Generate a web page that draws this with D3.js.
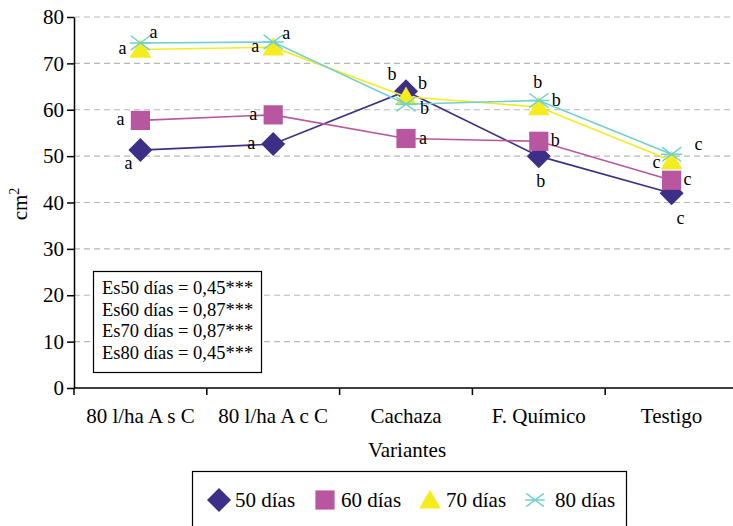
<!DOCTYPE html>
<html>
<head>
<meta charset="utf-8">
<script src="https://cdn.jsdelivr.net/npm/d3@7"></script>
<style>
  html, body { margin: 0; padding: 0; background: #fff; }
  svg text { font-family: "Liberation Serif", "Times New Roman", serif; fill: #000; }
</style>
</head>
<body>
<svg id="chart" width="733" height="526"></svg>
<script>
// Leaf area (cm²) by treatment variant at four sampling ages
const categories = ["80 l/ha A s C", "80 l/ha A c C", "Cachaza", "F. Químico", "Testigo"];
const seriesNames = ["50 días", "60 días", "70 días", "80 días"];
const values50 = [51.3, 52.6, 64.0, 50.0, 42.0];
const values60 = [57.7, 58.9, 53.8, 53.2, 44.8];
const values70 = [73.0, 73.5, 62.8, 60.6, 49.0];
const values80 = [74.4, 74.6, 61.2, 62.0, 50.4];
// significance letters per point
const letters50 = ["a", "a", "b", "b", "c"];
const letters60 = ["a", "a", "a", "b", "c"];
const letters70 = ["a", "a", "b", "b", "c"];
const letters80 = ["a", "a", "b", "b", "c"];
const yTicks = [0, 10, 20, 30, 40, 50, 60, 70, 80];
const statsLines = ["Es50 días = 0,45***", "Es60 días = 0,87***", "Es70 días = 0,87***", "Es80 días = 0,45***"];

const colors = ["#3d2f87", "#b8579f", "#f5ec1e", "#72d0d0"];
const shapes = ["diamond", "square", "triangle", "asterisk"];
// letter offsets relative to each point (dx, dy, anchor)
const letterPos = [
  [[-12, 19, "middle"], [-18, 5, "end"], [-14, -11, "middle"], [2, 31, "middle"], [9, 31, "middle"]],
  [[-16, 5, "end"], [-16, 5, "end"], [13, 5, "start"], [12, 5, "start"], [12, 5, "start"]],
  [[-14, 5, "end"], [-14, 5, "end"], [12, -8, "start"], [-1, -19, "middle"], [-11, 7, "end"]],
  [[9, -5, "start"], [9, -3, "start"], [14, 10, "start"], [13, 6, "start"], [27, -4, "middle"]]
];

const series = [values50, values60, values70, values80].map((vals, i) => ({
  name: seriesNames[i], color: colors[i], shape: shapes[i],
  letters: [letters50, letters60, letters70, letters80][i],
  points: vals.map((v, j) => ({ cat: categories[j], value: v, pos: letterPos[i][j] }))
}));

const svg = d3.select("#chart");
const plot = { left: 74, right: 738, top: 17, bottom: 388 };

const x = d3.scaleBand().domain(categories).range([plot.left, plot.right]);
const y = d3.scaleLinear().domain([0, 80]).range([plot.bottom, plot.top]);

// dashed horizontal grid
svg.append("g")
  .selectAll("line")
  .data(yTicks.filter(t => t > 0))
  .join("line")
  .attr("x1", plot.left).attr("x2", 733)
  .attr("y1", d => y(d)).attr("y2", d => y(d))
  .attr("stroke", "#b8b8b8").attr("stroke-width", 1.2)
  .attr("stroke-dasharray", "6,4");

// y axis
const yAxis = svg.append("g")
  .attr("transform", `translate(${plot.left},0)`)
  .call(d3.axisLeft(y).tickValues(yTicks).tickSize(7).tickPadding(3).tickSizeOuter(0));
yAxis.select(".domain").attr("stroke", "#000").attr("stroke-width", 1.5);
yAxis.selectAll(".tick line").attr("stroke", "#000").attr("stroke-width", 1.5);
yAxis.selectAll("text").attr("font-size", 21);

// x axis with ticks on band edges
const xAxis = svg.append("g")
  .attr("transform", `translate(0,${plot.bottom})`);
xAxis.append("line")
  .attr("x1", plot.left).attr("x2", 733)
  .attr("y1", 0).attr("y2", 0)
  .attr("stroke", "#000").attr("stroke-width", 1.5);
xAxis.selectAll("line.tk")
  .data(categories)
  .join("line").attr("class", "tk")
  .attr("x1", d => x(d)).attr("x2", d => x(d))
  .attr("y1", 0).attr("y2", 7)
  .attr("stroke", "#000").attr("stroke-width", 1.5);
xAxis.selectAll("text")
  .data(categories)
  .join("text")
  .attr("x", d => x(d) + x.bandwidth() / 2)
  .attr("y", 35)
  .attr("text-anchor", "middle")
  .attr("font-size", 21)
  .text(d => d);

// axis titles
svg.append("text")
  .attr("x", 407).attr("y", 457)
  .attr("text-anchor", "middle").attr("font-size", 21)
  .text("Variantes");
const yt = svg.append("text")
  .attr("transform", "translate(27,204) rotate(-90)")
  .attr("text-anchor", "middle").attr("font-size", 21);
yt.append("tspan").text("cm");
yt.append("tspan").attr("dy", -8).attr("font-size", 14).text("2");

// marker drawing
function drawMarker(g, shape, color, size) {
  const s = size;
  if (shape === "diamond") {
    g.append("path").attr("d", `M0,${-s}L${s},0L0,${s}L${-s},0Z`).attr("fill", color);
  } else if (shape === "square") {
    const h = s * 0.8;
    g.append("rect").attr("x", -h).attr("y", -h).attr("width", 2 * h).attr("height", 2 * h).attr("fill", color);
  } else if (shape === "triangle") {
    const w = s * 0.9;
    g.append("path").attr("d", `M0,${-s * 0.85}L${w},${s * 0.7}L${-w},${s * 0.7}Z`).attr("fill", color);
  } else {
    const a = s * 0.8;
    g.append("path")
      .attr("d", `M${-a},${-a * 0.75}L${a},${a * 0.75}M${-a},${a * 0.75}L${a},${-a * 0.75}M${-a - 1},0L${a + 1},0`)
      .attr("stroke", color).attr("stroke-width", 1.4).attr("fill", "none");
  }
}

const cx = d => x(d.cat) + x.bandwidth() / 2;
const line = d3.line().x(cx).y(d => y(d.value));

series.forEach(s => {
  const g = svg.append("g");
  g.append("path").datum(s.points)
    .attr("d", line).attr("fill", "none")
    .attr("stroke", s.color).attr("stroke-width", 1.6);
  s.points.forEach(p => {
    const m = g.append("g").attr("transform", `translate(${cx(p)},${y(p.value)})`);
    drawMarker(m, s.shape, s.color, 12);
  });
});

// significance letters
series.forEach(s => {
  svg.append("g").selectAll("text")
    .data(s.points)
    .join("text")
    .attr("x", d => cx(d) + d.pos[0])
    .attr("y", d => y(d.value) + d.pos[1])
    .attr("text-anchor", d => d.pos[2])
    .attr("font-size", 18)
    .text((d, i) => s.letters[i]);
});

// statistics box
svg.append("rect")
  .attr("x", 93.5).attr("y", 271.5).attr("width", 168).attr("height", 101)
  .attr("fill", "#fff").attr("stroke", "#000").attr("stroke-width", 1.2);
svg.append("g").selectAll("text")
  .data(statsLines)
  .join("text")
  .attr("x", 102).attr("y", (d, i) => 294 + i * 21.5)
  .attr("font-size", 18.5)
  .text(d => d);

// legend
svg.append("rect")
  .attr("x", 192.5).attr("y", 471.5).attr("width", 434).attr("height", 60)
  .attr("fill", "#fff").attr("stroke", "#000").attr("stroke-width", 1.2);
const legendX = [219, 325, 430, 535];
series.forEach((s, i) => {
  const g = svg.append("g").attr("transform", `translate(${legendX[i]},500)`);
  drawMarker(g, s.shape, s.color, s.shape === "asterisk" ? 11 : 12);
  g.append("text")
    .attr("x", s.shape === "asterisk" ? 20 : 16).attr("y", 7)
    .attr("font-size", 21)
    .text(s.name);
});
</script>
</body>
</html>
